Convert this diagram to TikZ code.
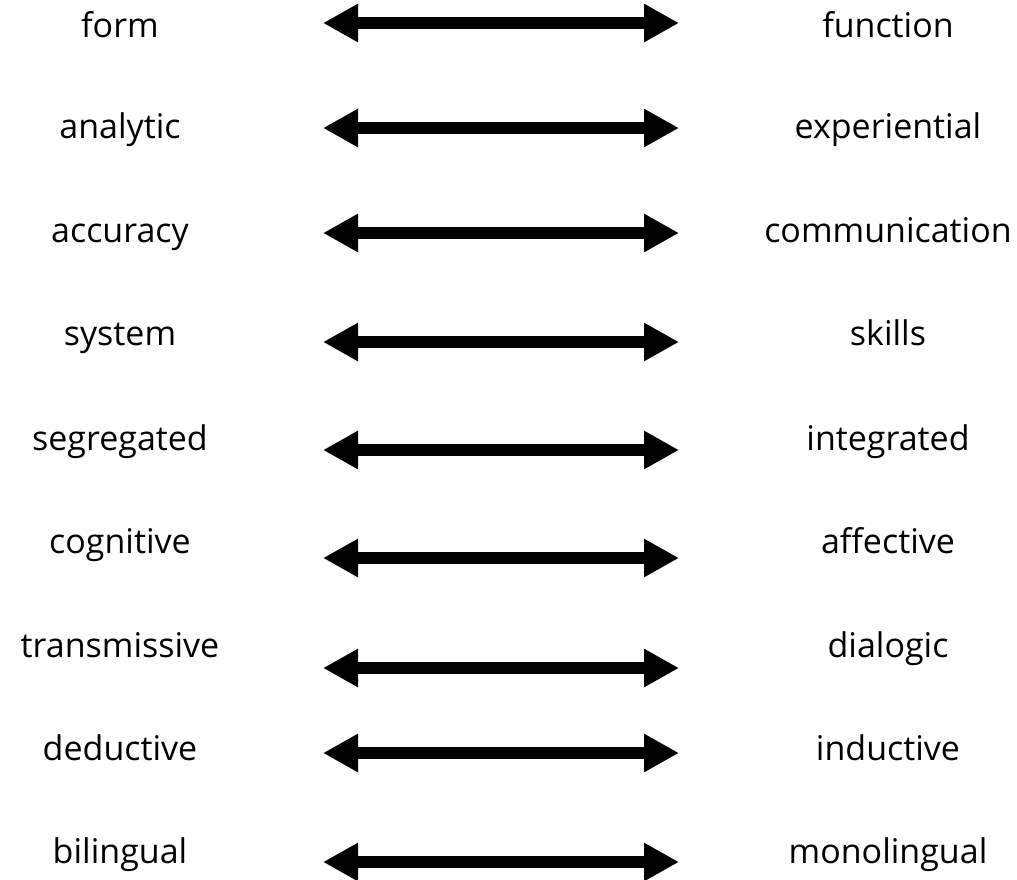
\documentclass[tikz,border=0pt]{standalone}
\usepackage{fontspec}
\setmainfont{Open Sans}
\usetikzlibrary{arrows.meta}

\begin{document}
\begin{tikzpicture}[x=1pt,y=-1pt,
    word/.style={anchor=base,inner sep=0pt,font=\fontsize{34}{40}\selectfont},
    pair/.style={line width=12pt,{Triangle[length=35pt,width=36pt]}-{Triangle[length=35pt,width=36pt]}}]
      \useasboundingbox (0,0) rectangle (1017,879);
      % left column
      \node[word] (form) at (120,37) {form};
      \node[word] (analytic) at (120,138) {analytic};
      \node[word] (accuracy) at (120,242) {accuracy};
      \node[word] (system) at (120,345) {system};
      \node[word] (segregated) at (120,450) {segregated};
      \node[word] (cognitive) at (120,553) {cognitive};
      \node[word] (transmissive) at (120,657) {transmissive};
      \node[word] (deductive) at (120,760) {deductive};
      \node[word] (bilingual) at (120,863) {bilingual};
      % right column
      \node[word] (function) at (888,37) {function};
      \node[word] (experiential) at (888,138) {experiential};
      \node[word] (communication) at (888,242) {communication};
      \node[word] (skills) at (888,345) {skills};
      \node[word] (integrated) at (888,450) {integrated};
      \node[word] (affective) at (888,553) {affective};
      \node[word] (dialogic) at (888,657) {dialogic};
      \node[word] (inductive) at (888,760) {inductive};
      \node[word] (monolingual) at (888,863) {monolingual};
      % arrow ends
      \coordinate (tail1) at (323,23);  \coordinate (head1) at (679,23);
      \coordinate (tail2) at (323,128); \coordinate (head2) at (679,128);
      \coordinate (tail3) at (323,233); \coordinate (head3) at (679,233);
      \coordinate (tail4) at (323,342); \coordinate (head4) at (679,342);
      \coordinate (tail5) at (323,450); \coordinate (head5) at (679,450);
      \coordinate (tail6) at (323,558); \coordinate (head6) at (679,558);
      \coordinate (tail7) at (323,668); \coordinate (head7) at (679,668);
      \coordinate (tail8) at (323,753); \coordinate (head8) at (679,753);
      \coordinate (tail9) at (323,862); \coordinate (head9) at (679,862);
      \draw[pair] (tail1) -- (head1);
      \draw[pair] (tail2) -- (head2);
      \draw[pair] (tail3) -- (head3);
      \draw[pair] (tail4) -- (head4);
      \draw[pair] (tail5) -- (head5);
      \draw[pair] (tail6) -- (head6);
      \draw[pair] (tail7) -- (head7);
      \draw[pair] (tail8) -- (head8);
      \draw[pair] (tail9) -- (head9);
\end{tikzpicture}
\end{document}
